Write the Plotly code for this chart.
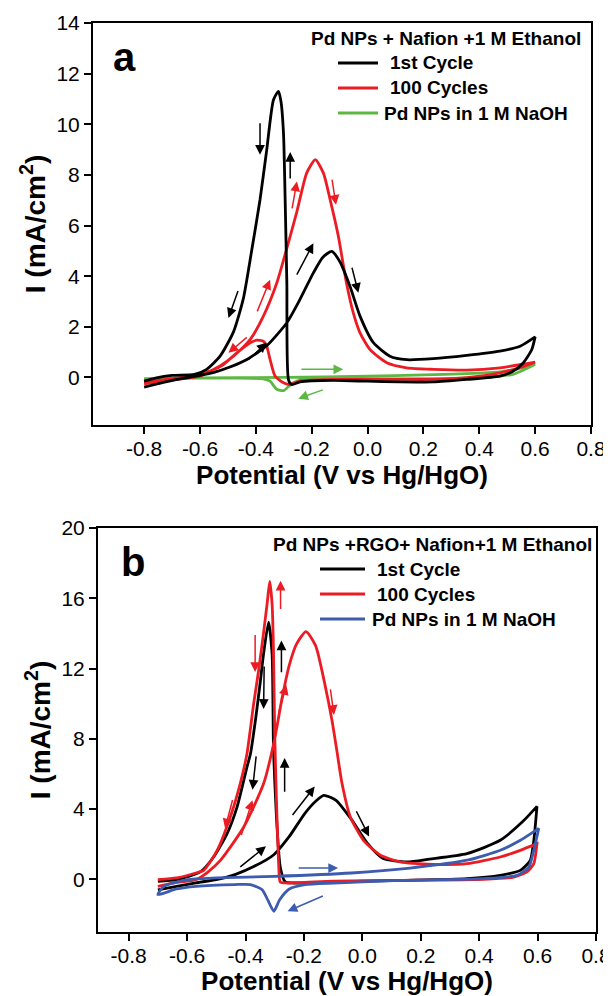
import plotly.graph_objects as go

# page body has an 8 px margin, so the figure is drawn 8 px in from the corner
OFF = 8
W, H = 611 - OFF, 996 - OFF

# ---------------- Panel a data ----------------
a_black_fwd_x = [-0.8, -0.75, -0.69, -0.65, -0.6, -0.55, -0.5, -0.432, -0.361, -0.289, -0.242, -0.194, -0.16, -0.128, -0.098, -0.063, -0.027, 0.021, 0.08, 0.14, 0.235, 0.355, 0.474, 0.546, 0.6]
a_black_fwd_y = [-0.38, -0.25, -0.1, -0.02, 0.08, 0.2, 0.38, 0.71, 1.25, 2.16, 3.08, 4.13, 4.75, 4.98, 4.55, 3.6, 2.42, 1.37, 0.84, 0.7, 0.74, 0.87, 1.04, 1.23, 1.6]
a_black_rev_x = [0.6, 0.588, 0.558, 0.522, 0.474, 0.355, 0.235, 0.116, -0.003, -0.122, -0.242, -0.271, -0.283, -0.289, -0.295, -0.301, -0.31, -0.319, -0.337, -0.361, -0.385, -0.415, -0.445, -0.48, -0.528, -0.576, -0.62, -0.7, -0.76, -0.8]
a_black_rev_y = [1.6, 1.1, 0.58, 0.25, 0.05, -0.08, -0.18, -0.18, -0.15, -0.12, -0.18, -0.28, -0.1, 3.73, 7.02, 9.65, 10.9, 11.3, 10.96, 8.99, 7.02, 5.0, 3.1, 1.8, 0.84, 0.32, 0.12, 0.08, -0.03, -0.15]

a_red_fwd_x = [-0.8, -0.7, -0.6, -0.576, -0.528, -0.48, -0.42, -0.373, -0.325, -0.289, -0.253, -0.218, -0.187, -0.158, -0.134, -0.105, -0.075, -0.051, -0.027, 0.009, 0.069, 0.14, 0.235, 0.355, 0.474, 0.6]
a_red_fwd_y = [-0.25, -0.1, 0.05, 0.18, 0.45, 0.84, 1.5, 2.42, 3.73, 5.1, 6.55, 8.07, 8.6, 8.07, 7.02, 5.6, 3.7, 2.55, 1.76, 1.1, 0.58, 0.38, 0.32, 0.29, 0.38, 0.6]
a_red_rev_x = [0.6, 0.55, 0.474, 0.355, 0.235, 0.1, -0.122, -0.242, -0.277, -0.301, -0.331, -0.349, -0.361, -0.373, -0.397, -0.42, -0.468, -0.516, -0.564, -0.6, -0.7, -0.8]
a_red_rev_y = [0.6, 0.4, 0.18, -0.01, -0.08, -0.08, -0.08, -0.15, -0.28, -0.21, 0.05, 0.71, 1.23, 1.43, 1.47, 1.37, 0.97, 0.51, 0.25, 0.12, -0.05, -0.2]

a_green_fwd_x = [-0.8, -0.6, -0.3, 0.0, 0.2, 0.355, 0.474, 0.534, 0.6]
a_green_fwd_y = [-0.08, -0.02, 0.0, 0.05, 0.1, 0.15, 0.22, 0.33, 0.52]
a_green_rev_x = [0.6, 0.56, 0.52, 0.415, 0.235, -0.122, -0.24, -0.277, -0.3, -0.325, -0.349, -0.373, -0.48, -0.6, -0.8]
a_green_rev_y = [0.52, 0.3, 0.12, 0.0, -0.05, -0.07, -0.1, -0.3, -0.52, -0.47, -0.15, -0.06, -0.03, -0.03, -0.05]

# ---------------- Panel b data ----------------
b_black_fwd_x = [-0.7, -0.636, -0.57, -0.5, -0.436, -0.37, -0.303, -0.25, -0.196, -0.156, -0.132, -0.09, -0.037, 0.017, 0.07, 0.153, 0.23, 0.358, 0.472, 0.55, 0.598]
b_black_fwd_y = [-0.6, -0.4, -0.2, -0.02, 0.27, 0.74, 1.4, 2.44, 3.77, 4.5, 4.78, 4.5, 3.4, 2.06, 1.2, 0.99, 1.15, 1.46, 2.22, 3.3, 4.15]
b_black_rev_x = [0.598, 0.587, 0.575, 0.541, 0.472, 0.358, 0.13, -0.098, -0.235, -0.264, -0.281, -0.294, -0.304, -0.306, -0.309, -0.321, -0.338, -0.349, -0.366, -0.383, -0.395, -0.429, -0.463, -0.509, -0.555, -0.636, -0.7]
b_black_rev_y = [4.15, 2.2, 1.08, 0.51, 0.23, 0.04, -0.06, -0.15, -0.21, -0.15, 0.7, 3.55, 7.34, 10.0, 12.85, 14.64, 12.85, 11.3, 9.05, 7.15, 6.39, 4.11, 2.6, 1.27, 0.42, -0.02, -0.11]

b_red_fwd_x = [-0.7, -0.636, -0.57, -0.53, -0.486, -0.406, -0.338, -0.3, -0.275, -0.25, -0.225, -0.193, -0.16, -0.127, -0.104, -0.087, -0.07, -0.041, 0.004, 0.062, 0.13, 0.244, 0.358, 0.472, 0.541, 0.598]
b_red_fwd_y = [-0.4, -0.17, -0.02, 0.4, 1.08, 2.98, 5.45, 8.0, 10.3, 12.2, 13.4, 14.1, 13.3, 11.0, 9.05, 7.3, 5.5, 3.55, 2.22, 1.37, 0.99, 0.85, 0.89, 1.27, 1.65, 2.03]
b_red_rev_x = [0.598, 0.587, 0.564, 0.518, 0.416, 0.13, -0.098, -0.258, -0.281, -0.286, -0.294, -0.3, -0.304, -0.309, -0.317, -0.326, -0.34, -0.355, -0.372, -0.395, -0.418, -0.452, -0.497, -0.543, -0.57, -0.636, -0.7]
b_red_rev_y = [2.03, 0.89, 0.42, 0.13, 0.0, -0.06, -0.1, -0.21, -0.15, 0.7, 4.5, 8.3, 12.85, 15.69, 16.96, 15.69, 13.79, 11.9, 10.0, 7.15, 5.45, 3.55, 1.65, 0.51, 0.36, 0.08, -0.02]

b_blue_fwd_x = [-0.7, -0.68, -0.6, -0.5, -0.3, -0.037, 0.163, 0.363, 0.472, 0.541, 0.604]
b_blue_fwd_y = [-0.87, -0.4, -0.02, 0.08, 0.17, 0.36, 0.64, 1.1, 1.65, 2.22, 2.9]
b_blue_rev_x = [0.604, 0.587, 0.57, 0.53, 0.416, 0.13, -0.098, -0.196, -0.25, -0.283, -0.303, -0.323, -0.343, -0.383, -0.436, -0.57, -0.636, -0.7]
b_blue_rev_y = [2.9, 1.65, 0.7, 0.23, 0.04, -0.06, -0.21, -0.3, -0.55, -1.16, -1.82, -1.2, -0.59, -0.3, -0.3, -0.4, -0.55, -0.87]

# Direction arrows: (x_tail, y_tail, x_head, y_head, colour key)
a_arrows = [
    (-0.385, 10.1, -0.385, 8.8, "k"),
    (-0.277, 7.8, -0.277, 8.9, "k"),
    (-0.256, 4.0, -0.194, 5.3, "k"),
    (-0.057, 4.39, -0.033, 3.34, "k"),
    (-0.462, 3.47, -0.498, 2.35, "k"),
    (-0.432, 0.64, -0.361, 1.37, "k"),
    (-0.271, 6.62, -0.253, 7.74, "r"),
    (-0.128, 7.87, -0.113, 6.82, "r"),
    (-0.397, 2.55, -0.349, 3.86, "r"),
    (-0.427, 1.63, -0.498, 0.97, "r"),
    (-0.242, 0.32, -0.087, 0.32, "g"),
    (-0.155, -0.47, -0.248, -0.84, "g"),
]
b_arrows = [
    (-0.336, 12.2, -0.338, 9.7, "k"),
    (-0.277, 11.7, -0.277, 13.6, "k"),
    (-0.363, 7.08, -0.376, 5.1, "k"),
    (-0.266, 4.9, -0.266, 6.9, "k"),
    (-0.243, 3.58, -0.163, 5.28, "k"),
    (-0.023, 3.96, 0.023, 2.44, "k"),
    (-0.423, 0.64, -0.33, 1.88, "k"),
    (-0.367, 14.0, -0.367, 11.8, "r"),
    (-0.28, 15.3, -0.28, 17.0, "r"),
    (-0.287, 9.45, -0.26, 11.06, "r"),
    (-0.11, 10.9, -0.097, 9.36, "r"),
    (-0.443, 4.6, -0.47, 2.9, "r"),
    (-0.416, 2.44, -0.376, 4.5, "r"),
    (-0.223, 0.64, -0.083, 0.64, "b"),
    (-0.13, -0.91, -0.256, -1.82, "b"),
]

x_ticks = [-0.8, -0.6, -0.4, -0.2, 0.0, 0.2, 0.4, 0.6, 0.8]
x_tick_text = ["-0.8", "-0.6", "-0.4", "-0.2", "0.0", "0.2", "0.4", "0.6", "0.8"]
a_y_ticks = [0, 2, 4, 6, 8, 10, 12, 14]
b_y_ticks = [0, 4, 8, 12, 16, 20]

a_legend_title = "Pd NPs + Nafion +1 M Ethanol"
b_legend_title = "Pd NPs +RGO+ Nafion+1 M Ethanol"
a_labels = ["1st Cycle", "100 Cycles", "Pd NPs in 1 M NaOH"]
b_labels = ["1st Cycle", "100 Cycles", "Pd NPs in 1 M NaOH"]

COL = {"k": "#000000", "r": "#ec1c24", "g": "#5cb843", "b": "#3d5caf"}
FONT = "Liberation Sans, Arial, sans-serif"

fig = go.Figure()

def add_loop(fx, fy, rx, ry, color, xa, ya, name):
    fig.add_trace(go.Scatter(
        x=fx + rx, y=fy + ry, mode="lines", name=name,
        line=dict(color=color, width=2.8, shape="spline", smoothing=0.6),
        xaxis=xa, yaxis=ya, showlegend=False, hoverinfo="skip"))

add_loop(a_green_fwd_x, a_green_fwd_y, a_green_rev_x, a_green_rev_y, COL["g"], "x", "y", a_labels[2])
add_loop(a_red_fwd_x, a_red_fwd_y, a_red_rev_x, a_red_rev_y, COL["r"], "x", "y", a_labels[1])
add_loop(a_black_fwd_x, a_black_fwd_y, a_black_rev_x, a_black_rev_y, COL["k"], "x", "y", a_labels[0])

add_loop(b_black_fwd_x, b_black_fwd_y, b_black_rev_x, b_black_rev_y, COL["k"], "x2", "y2", b_labels[0])
add_loop(b_red_fwd_x, b_red_fwd_y, b_red_rev_x, b_red_rev_y, COL["r"], "x2", "y2", b_labels[1])
add_loop(b_blue_fwd_x, b_blue_fwd_y, b_blue_rev_x, b_blue_rev_y, COL["b"], "x2", "y2", b_labels[2])

annotations = []
for arrows, xr, yr in [(a_arrows, "x", "y"), (b_arrows, "x2", "y2")]:
    for (x0, y0, x1, y1, c) in arrows:
        annotations.append(dict(
            x=x1, y=y1, ax=x0, ay=y0, xref=xr, yref=yr, axref=xr, ayref=yr,
            text="", showarrow=True, arrowhead=2, arrowsize=1.3, arrowwidth=1.5,
            arrowcolor=COL[c]))

def px(x):
    return (x - OFF) / W

def py(y):
    return 1 - (y - OFF) / H

LEG = 19

def legend_block(title, title_right, title_y, line_x0, line_x1, ys, labels, label_x, colors):
    annotations.append(dict(text="<b>" + title + "</b>", x=px(title_right), y=py(title_y),
                            xref="paper", yref="paper", xanchor="right", yanchor="middle",
                            showarrow=False, font=dict(family=FONT, size=LEG, color="black")))
    shapes = []
    for yy, lab, lx, c in zip(ys, labels, label_x, colors):
        shapes.append(dict(type="line", xref="paper", yref="paper",
                           x0=px(line_x0), x1=px(line_x1), y0=py(yy), y1=py(yy),
                           line=dict(color=c, width=3)))
        annotations.append(dict(text="<b>" + lab + "</b>", x=px(lx), y=py(yy),
                                xref="paper", yref="paper", xanchor="left", yanchor="middle",
                                showarrow=False, font=dict(family=FONT, size=LEG, color="black")))
    return shapes

shapes = []
shapes += legend_block(a_legend_title, 583, 38, 338, 378, [63, 88, 113], a_labels,
                       [388, 388, 382], [COL["k"], COL["r"], COL["g"]])
shapes += legend_block(b_legend_title, 594, 544, 320, 365, [569, 594, 619], b_labels,
                       [375, 375, 370], [COL["k"], COL["r"], COL["b"]])

annotations.append(dict(text="<b>a</b>", x=px(111), y=py(57), xref="paper", yref="paper",
                        xanchor="left", yanchor="middle", showarrow=False,
                        font=dict(family=FONT, size=40, color="black")))
annotations.append(dict(text="<b>b</b>", x=px(119), y=py(562), xref="paper", yref="paper",
                        xanchor="left", yanchor="middle", showarrow=False,
                        font=dict(family=FONT, size=40, color="black")))

axis_common = dict(showline=True, linecolor="black", linewidth=2, mirror=True,
                   ticks="outside", ticklen=7, tickwidth=2, tickcolor="black",
                   showgrid=False, zeroline=False, automargin=False,
                   tickfont=dict(family=FONT, size=21, color="black"))

xt = dict(text="<b>Potential (V vs Hg/HgO)</b>", font=dict(family=FONT, size=26, color="black"), standoff=0)
yt = dict(text="<b>I (mA/cm<sup>2</sup>)</b>", font=dict(family=FONT, size=28, color="black"), standoff=3)

fig.update_layout(
    width=W, height=H, margin=dict(l=0, r=0, t=0, b=0, pad=0, autoexpand=False),
    paper_bgcolor="white", plot_bgcolor="white",
    showlegend=False,
    xaxis=dict(domain=[px(93), px(591)], range=[-0.983, 0.8], anchor="y",
               tickvals=x_ticks, ticktext=x_tick_text, title=xt, ticklabelstandoff=-3,
               **axis_common),
    yaxis=dict(domain=[py(425), py(23)], range=[-1.88, 14], anchor="x",
               tickvals=a_y_ticks, title=yt, **axis_common),
    xaxis2=dict(domain=[px(98), px(596)], range=[-0.905, 0.8], anchor="y2",
                tickvals=x_ticks, ticktext=x_tick_text, title=xt, ticklabelstandoff=-3,
                **axis_common),
    yaxis2=dict(domain=[py(932), py(528)], range=[-3, 20], anchor="x2",
                tickvals=b_y_ticks, title=yt, **axis_common),
    annotations=annotations, shapes=shapes,
)

fig.write_html("out.html")
